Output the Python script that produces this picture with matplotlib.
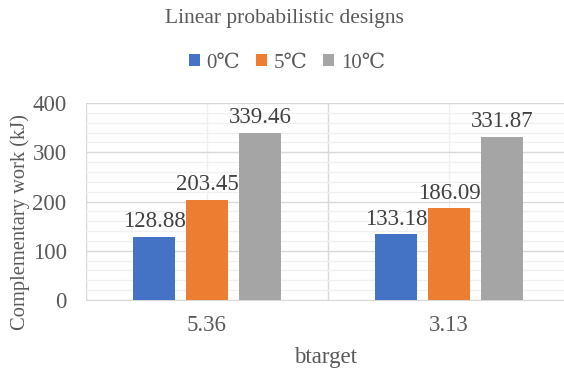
import matplotlib.pyplot as plt
import numpy as np

categories = ["5.36", "3.13"]
series_names = ["0℃", "5℃", "10℃"]
values_0c = [128.88, 133.18]
values_5c = [203.45, 186.09]
values_10c = [339.46, 331.87]

colors = ["#4472C4", "#ED7D31", "#A5A5A5"]
text_color = "#595959"

plt.rcParams["font.family"] = ["Liberation Serif", "DejaVu Serif"]

fig = plt.figure(figsize=(5.64, 3.69), dpi=100)
# plot area runs slightly past the right edge, like the source
ax = fig.add_axes([86 / 564, 1 - 300 / 369, (570 - 86) / 564, (300 - 103) / 369])

x = np.arange(len(categories))
bar_w = 0.174
step = 0.219
for i, (vals, name) in enumerate(zip([values_0c, values_5c, values_10c], series_names)):
    pos = x + (i - 1) * step
    ax.bar(pos, vals, width=bar_w, color=colors[i], label=name, zorder=3)
    for px, v in zip(pos, vals):
        ax.text(px, v + 20, f"{v:.2f}", ha="center", va="baseline",
                fontsize=16.5, color="#404040", zorder=4)

ax.set_xlim(-0.5, len(categories) - 0.5)
ax.set_ylim(0, 400)
ax.set_yticks(np.arange(0, 401, 100))
ax.set_yticks(np.arange(0, 401, 20), minor=True)
ax.set_xticks(x)
ax.set_xticklabels(categories)

# grid
ax.grid(axis="y", which="minor", color="#F0F0F0", lw=1, zorder=0)
ax.grid(axis="y", which="major", color="#D9D9D9", lw=1, zorder=1)
for b in np.arange(-0.5, len(categories), 1.0):
    ax.axvline(b, color="#D9D9D9", lw=1, zorder=1)
for c in x:
    ax.axvline(c, color="#F0F0F0", lw=1, zorder=0)

for side in ["top", "right", "left"]:
    ax.spines[side].set_visible(False)
ax.spines["bottom"].set_color("#D9D9D9")
ax.tick_params(axis="both", which="both", length=0, labelsize=16.5, colors=text_color)
ax.tick_params(axis="y", pad=14)
ax.tick_params(axis="x", pad=11)

ax.set_ylabel("Complementary work (kJ)", fontsize=14.8, color=text_color)
ax.yaxis.set_label_coords(-56 / 484, (300 - 222) / 197)
ax.set_xlabel("btarget", fontsize=16.5, color=text_color)
ax.xaxis.set_label_coords((326 - 86) / 484, -(357 - 300) / 197)
ax.xaxis.label.set_va("center")

fig.text(284 / 564, 1 - 18 / 369, "Linear probabilistic designs", ha="center", va="center",
         fontsize=15.5, color=text_color)
leg = fig.legend(loc="center", bbox_to_anchor=(287 / 564, 1 - 63 / 369), ncol=3,
                 frameon=False, fontsize=15, handlelength=0.53, handleheight=0.53,
                 handletextpad=0.3, columnspacing=0.77)
for t in leg.get_texts():
    t.set_color(text_color)

fig.savefig("out.png", dpi=100)
